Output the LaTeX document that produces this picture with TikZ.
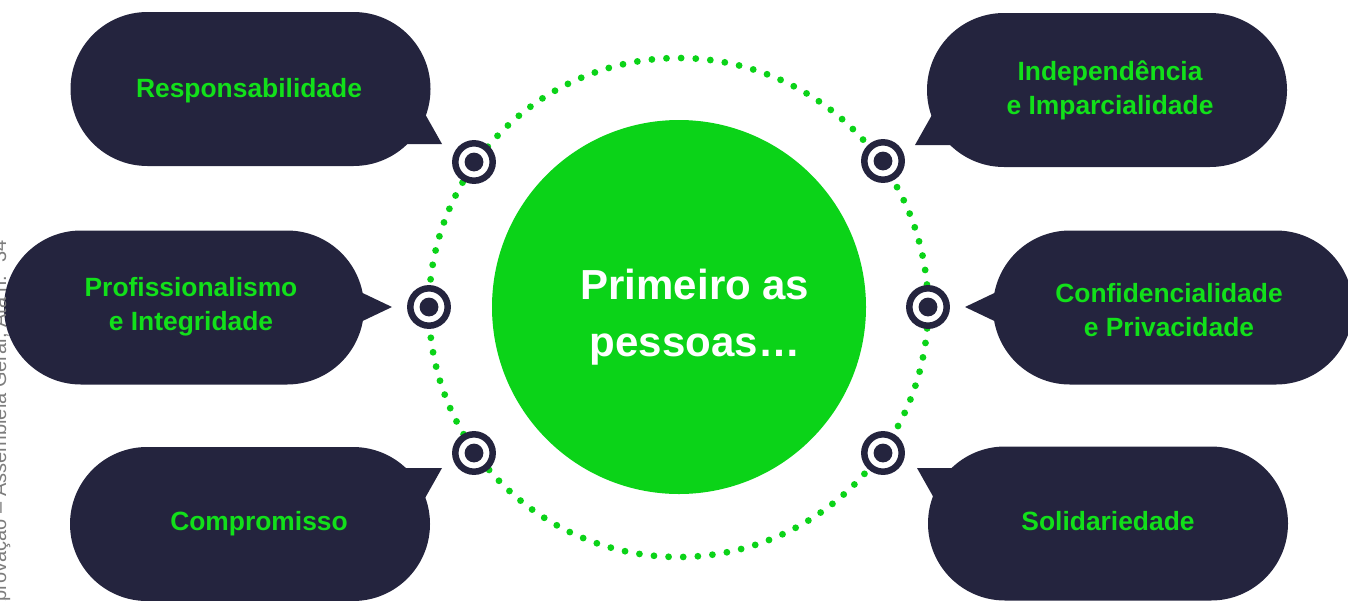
\documentclass[tikz,border=0pt]{standalone}
\usepackage{fontspec}
\setmainfont{Liberation Sans}
\usetikzlibrary{shapes.misc}
\definecolor{navy}{RGB}{36,36,62}
\definecolor{vgreen}{RGB}{11,211,24}
\definecolor{tgreen}{RGB}{18,224,26}
\definecolor{notegray}{RGB}{125,125,125}
\begin{document}
\begin{tikzpicture}[x=0.5pt,y=-0.5pt,
  bubble/.style={rounded rectangle, fill=navy, draw=none, inner sep=0pt,
    minimum width=180pt, minimum height=77pt},
  lbl/.style={text=tgreen, align=center, inner sep=0pt,
    font=\fontsize{13.2pt}{17pt}\selectfont\bfseries},
  target/.style={circle, draw=navy, fill=white, line width=3.25pt,
    minimum size=18.7pt, inner sep=0pt,
    path picture={\fill[navy] (path picture bounding box.center) circle (4.7pt);}},
  tail/.style={fill=navy}
]
\useasboundingbox (0,0) rectangle (1348,600);

% dotted ring
\foreach \i in {0,...,106}
  \fill[vgreen] ({678.5+249.5*cos(-89.4+\i*3.36449)},{307.5+249.5*sin(-89.4+\i*3.36449)}) circle (1.7pt);

% central disc
\node[circle, fill=vgreen, minimum size=187pt, inner sep=0pt] (hub) at (679,307) {};
\node[text=white, align=center, inner sep=0pt,
  font=\fontsize{21pt}{28.5pt}\selectfont\bfseries] (hubtxt) at (695,317)
  {Primeiro as\\pessoas…};

% bubbles
\node[bubble] (b1) at (250.5,89) {};
\node[bubble] (b2) at (184,307.5) {};
\node[bubble] (b3) at (250,524) {};
\node[bubble] (b4) at (1107,90) {};
\node[bubble] (b5) at (1173,307.5) {};
\node[bubble] (b6) at (1108,523.5) {};

% tails
\fill[tail] (442,144) -- (400,144) -- (420,105) -- cycle;
\fill[tail] (392,307) -- (350,287) -- (350,327) -- cycle;
\fill[tail] (442,468) -- (400,468) -- (420,507) -- cycle;
\fill[tail] (915,145) -- (957,145) -- (937,106) -- cycle;
\fill[tail] (965,307) -- (1007,287) -- (1007,327) -- cycle;
\fill[tail] (917,468) -- (959,468) -- (939,507) -- cycle;

% labels
\node[lbl] (l1) at (249,91) {Responsabilidade};
\node[lbl] (l2) at (191,307) {Profissionalismo\\e Integridade};
\node[lbl] (l3) at (259,524) {Compromisso};
\node[lbl] (l4) at (1110,90) {Independência\\e Imparcialidade};
\node[lbl] (l5) at (1169,310) {Confidencialidade\\e Privacidade};
\node[lbl] (l6) at (1108,521) {Solidariedade};

% targets
\node[target] (t1) at (474,162) {};
\node[target] (t2) at (429,307) {};
\node[target] (t3) at (474,453) {};
\node[target] (t4) at (883,161) {};
\node[target] (t5) at (928,307) {};
\node[target] (t6) at (883,453) {};

% side note (clipped at page edge, as in the reference)
\node[rotate=90, anchor=base east, inner sep=0pt, text=notegray,
  font=\fontsize{10pt}{12pt}\selectfont] (src) at (6,240)
  {Aprovação – Assembleia Geral, Ata n.º 34};
\end{tikzpicture}
\end{document}
